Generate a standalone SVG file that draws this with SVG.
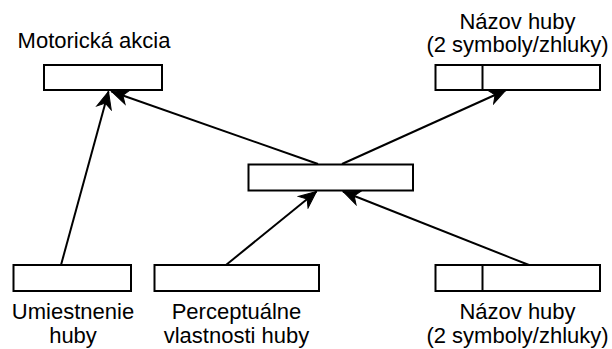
<svg xmlns="http://www.w3.org/2000/svg" width="612" height="349" viewBox="0 0 612 349">
<defs>
<style>
.box{fill:#fff;stroke:#000;stroke-width:2}
.edge{fill:none;stroke:#000;stroke-width:2}
text{font-family:"Liberation Sans",Arial,sans-serif;font-size:22px;fill:#000;text-anchor:middle}
</style>
<marker id="arr" viewBox="-18 -9 20 18" refX="0" refY="0" markerWidth="20" markerHeight="18" markerUnits="userSpaceOnUse" orient="auto">
<path d="M0,0 L-17,-7.5 L-12,0 L-17,7.5 Z" fill="#000" stroke="#000" stroke-width="1"/>
</marker>
</defs>
<rect width="612" height="349" fill="#fff"/>
<g id="connectors">
<line class="edge" x1="61" y1="265" x2="108.5" y2="91.5" marker-end="url(#arr)"/>
<line class="edge" x1="318" y1="164" x2="111.5" y2="91.5" marker-end="url(#arr)"/>
<line class="edge" x1="342" y1="164" x2="506" y2="90" marker-end="url(#arr)"/>
<line class="edge" x1="226" y1="265" x2="316.5" y2="191.5" marker-end="url(#arr)"/>
<line class="edge" x1="529" y1="265" x2="343" y2="191.5" marker-end="url(#arr)"/>
</g>
<g id="motor">
<rect class="box" x="44" y="65" width="118" height="25"/>
<text x="94" y="48">Motorická akcia</text>
</g>
<g id="nazov-top">
<rect class="box" x="435.5" y="65" width="164.5" height="25"/>
<line class="edge" x1="482.5" y1="65" x2="482.5" y2="90"/>
<text x="517.5" y="29">Názov huby</text>
<text x="517.5" y="52">(2 symboly/zhluky)</text>
</g>
<g id="center">
<rect class="box" x="248.5" y="164.5" width="164.5" height="26"/>
</g>
<g id="umiestnenie">
<rect class="box" x="13.5" y="265" width="117.5" height="26"/>
<text x="73" y="319">Umiestnenie</text>
<text x="73" y="343">huby</text>
</g>
<g id="perceptualne">
<rect class="box" x="154.5" y="265" width="164.5" height="26"/>
<text x="236.5" y="319">Perceptuálne</text>
<text x="236.5" y="343">vlastnosti huby</text>
</g>
<g id="nazov-bottom">
<rect class="box" x="435.5" y="265" width="164.5" height="26"/>
<line class="edge" x1="482.5" y1="265" x2="482.5" y2="291"/>
<text x="517.5" y="319">Názov huby</text>
<text x="517.5" y="343">(2 symboly/zhluky)</text>
</g>
</svg>
